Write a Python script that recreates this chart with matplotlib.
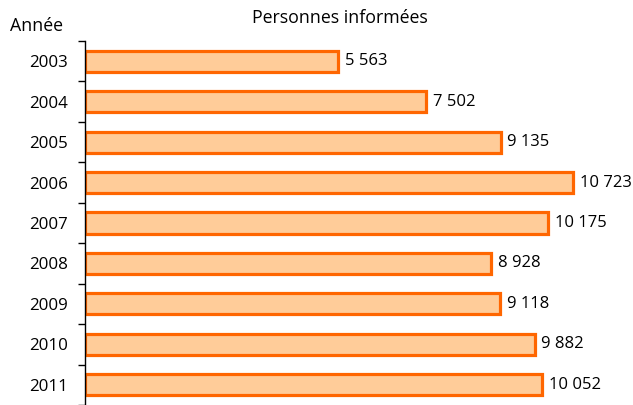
import matplotlib.pyplot as plt
from matplotlib.ticker import FixedLocator, NullFormatter

# Data
years = ["2003", "2004", "2005", "2006", "2007", "2008", "2009", "2010", "2011"]
informed = [5563, 7502, 9135, 10723, 10175, 8928, 9118, 9882, 10052]

FILL = "#FFCC99"
EDGE = "#FF6600"
plt.rcParams["font.family"] = ["Open Sans", "DejaVu Sans"]

fig = plt.figure(figsize=(6.33, 4.05), dpi=100)
ax = fig.add_axes([85 / 633, 0.0, 546 / 633, 1 - 41 / 405])

positions = list(range(len(years)))
ax.barh(positions, informed, height=0.52, color=FILL, edgecolor=EDGE, linewidth=2.3)

for pos, val in zip(positions, informed):
    label = f"{val:,}".replace(",", " ")
    ax.text(val + 150, pos, label, va="center", ha="left", fontsize=12)

ax.set_xlim(0, 12000)
ax.set_ylim(len(years) - 0.5, -0.5)

ax.set_yticks(positions)
ax.set_yticklabels(years, fontsize=12.2)
ax.tick_params(axis="y", which="major", length=0, pad=12)
ax.yaxis.set_minor_locator(FixedLocator([p - 0.5 for p in range(len(years) + 1)]))
ax.yaxis.set_minor_formatter(NullFormatter())
ax.tick_params(axis="y", which="minor", length=5, width=1, direction="out")
ax.set_xticks([])

for side in ["top", "right", "bottom"]:
    ax.spines[side].set_visible(False)
ax.spines["left"].set_linewidth(1)

fig.text(10 / 633, 1 - 26 / 405, "Année", ha="left", va="center", fontsize=12.8)
fig.text(340 / 633, 1 - 18 / 405, "Personnes informées", ha="center", va="center", fontsize=12.8)

fig.savefig("out.png", dpi=100)
